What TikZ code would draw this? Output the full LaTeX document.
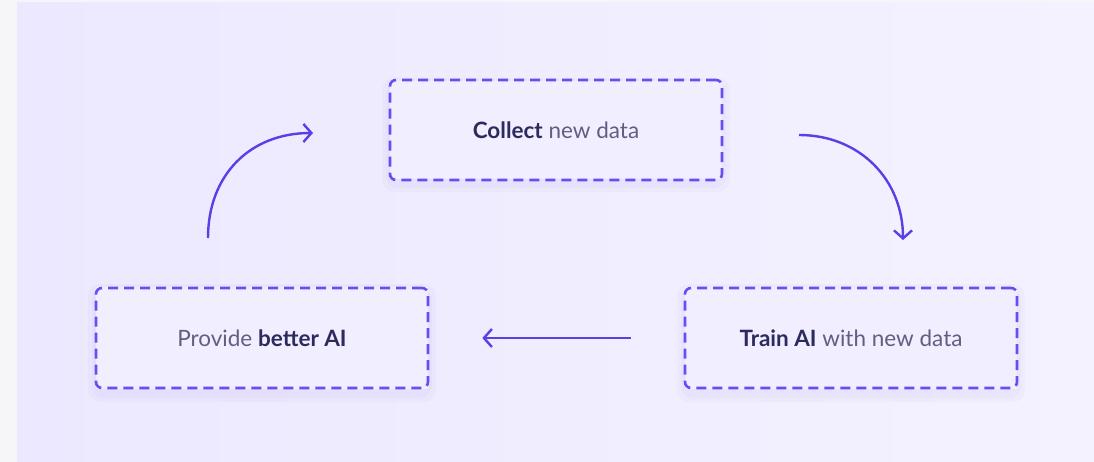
\documentclass[tikz,border=0pt]{standalone}
\usepackage{fontspec}
\setmainfont{Lato}
\usepackage{tikz}
\usetikzlibrary{arrows.meta,positioning,calc}
\definecolor{bgA}{HTML}{ECE8FF}
\definecolor{bgB}{HTML}{F4F2FF}
\definecolor{strip}{HTML}{F6F6F8}
\definecolor{dash}{HTML}{6A4CF2}
\definecolor{arrc}{HTML}{5A3EE6}
\definecolor{ink}{HTML}{2D2A5E}
\definecolor{soft}{HTML}{625D82}
\definecolor{glow}{HTML}{C9C0F5}
\newcommand{\keyw}[1]{\textbf{\color{ink}#1}}

\begin{document}
\begin{tikzpicture}[x=1pt, y=-1pt,
  stepbox/.style={draw=dash, dashed, dash pattern=on 10pt off 6pt, line width=2.6pt,
    rounded corners=6pt, minimum width=332pt, minimum height=100pt,
    font=\fontsize{22.5}{26}\selectfont, text=soft},
  arr/.style={draw=arrc, line width=2.4pt, -{Straight Barb[length=8pt, width=18pt, line width=2.4pt]}},
  halo/.style={fill=glow, opacity=0.12, rounded corners=12pt},
]
\useasboundingbox (0,0) rectangle (1094,462);
\fill[strip] (0,0) rectangle (1094,462);
\shade[left color=bgA, right color=bgB] (17,3) rectangle (1094,462);
% soft shadows under the boxes
\foreach \g in {4,8} {
  \fill[halo] (390-\g,81-\g+5) rectangle (722+\g,179+\g+5);
  \fill[halo] (96-\g,287-\g+5) rectangle (428+\g,389+\g+5);
  \fill[halo] (685-\g,287-\g+5) rectangle (1017+\g,389+\g+5);
}
\fill[bgB!70!bgA] (390,81) rectangle (722,179);
\fill[bgB!70!bgA] (96,287) rectangle (428,389);
\fill[bgB!70!bgA] (685,287) rectangle (1017,389);
% the three steps
\node[stepbox] (collect) at (556,130) {\keyw{Collect} new data};
\node[stepbox] (train) at (851,338) {\keyw{Train AI} with new data};
\node[stepbox] (provide) at (262,338) {Provide \keyw{better AI}};
% arrows of the cycle
\coordinate (upA) at (208,238);
\coordinate (upB) at (313,133);
\coordinate (dnA) at (799,135);
\coordinate (dnB) at (903,240);
\draw[arr] (upA) .. controls (208,175) and (250,133) .. (upB);
\draw[arr] (dnA) .. controls (860,135) and (903,180) .. (dnB);
\draw[arr, shorten <=53pt, shorten >=53pt] (train) -- (provide);
\end{tikzpicture}
\end{document}
